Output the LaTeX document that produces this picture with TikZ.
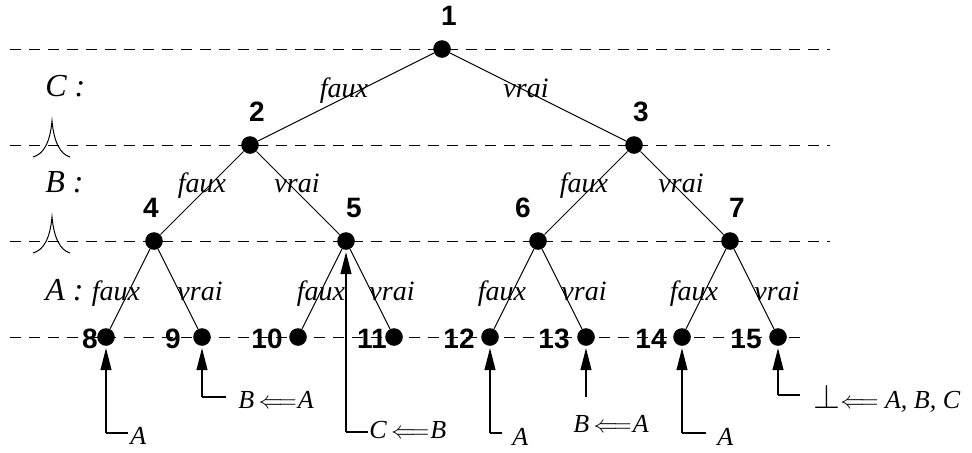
\documentclass[tikz,border=0pt]{standalone}
\usepackage{fontspec}
\setmainfont{Liberation Serif}
\newfontfamily\numfont{Liberation Sans}
\usetikzlibrary{arrows.meta}

\begin{document}
\begin{tikzpicture}[x=0.5pt,y=-0.5pt,
  dot/.style={circle,fill=black,inner sep=0pt,minimum size=8.8pt},
  num/.style={font=\numfont\bfseries\fontsize{14}{16}\selectfont,inner sep=0pt},
  lab/.style={font=\itshape\fontsize{14}{16}\selectfont,anchor=base,inner sep=0pt},
  lvl/.style={font=\itshape\fontsize{16}{18}\selectfont,anchor=base west,inner sep=0pt},
  note/.style={font=\itshape\fontsize{13}{15}\selectfont,anchor=base west,inner sep=0pt},
  branch/.style={line width=0.5pt},
  rule/.style={dash pattern=on 5.5pt off 4pt,line width=0.5pt},
  hint/.style={line width=0.6pt,-{Triangle[length=11pt,width=5.5pt]}},
  hook/.style={line width=0.6pt},
  cusp/.style={line width=0.5pt}
]
\useasboundingbox (0,0) rectangle (972,452);

% level rules
\draw[rule] (10,49) -- (830,49);
\draw[rule] (10,145) -- (830,145);
\draw[rule] (10,241) -- (830,241);
\draw[rule] (10,337) -- (805,337);

% conjunction marks on the rules
\draw[cusp] (33,157) .. controls (44,154) and (50,142) .. (52,121)
            .. controls (54,142) and (60,154) .. (70,157);
\draw[cusp] (33,253) .. controls (44,250) and (50,238) .. (52,217)
            .. controls (54,238) and (60,250) .. (70,253);

% variable labels
\node[lvl] (lc) at (45,96) {C :};
\node[lvl] (lb) at (45,192) {B :};
\node[lvl] (la) at (45,300) {A :};

% tree nodes
\node[dot] (n1) at (442,49) {};
\node[dot] (n2) at (250,145) {};
\node[dot] (n3) at (634,145) {};
\node[dot] (n4) at (154,241) {};
\node[dot] (n5) at (346,241) {};
\node[dot] (n6) at (538,241) {};
\node[dot] (n7) at (730,241) {};
\node[dot] (n8) at (106,337) {};
\node[dot] (n9) at (202,337) {};
\node[dot] (n10) at (298,337) {};
\node[dot] (n11) at (394,337) {};
\node[dot] (n12) at (490,337) {};
\node[dot] (n13) at (586,337) {};
\node[dot] (n14) at (682,337) {};
\node[dot] (n15) at (778,337) {};

% node numbers
\node[num] (t1) at (449,16) {1};
\node[num] (t2) at (257,112) {2};
\node[num] (t3) at (641,112) {3};
\node[num] (t4) at (151,208) {4};
\node[num] (t5) at (354,208) {5};
\node[num] (t6) at (523,208) {6};
\node[num] (t7) at (737,208) {7};
\node[num] (t8) at (90,339) {8};
\node[num] (t9) at (173,339) {9};
\node[num] (t10) at (267,339) {10};
\node[num] (t11) at (372,339) {11};
\node[num] (t12) at (459,339) {12};
\node[num] (t13) at (554,339) {13};
\node[num] (t14) at (651,339) {14};
\node[num] (t15) at (746,339) {15};

% branches
\draw[branch] (n1) -- (n2);  \draw[branch] (n1) -- (n3);
\draw[branch] (n2) -- (n4);  \draw[branch] (n2) -- (n5);
\draw[branch] (n3) -- (n6);  \draw[branch] (n3) -- (n7);
\draw[branch] (n4) -- (n8);  \draw[branch] (n4) -- (n9);
\draw[branch] (n5) -- (n10); \draw[branch] (n5) -- (n11);
\draw[branch] (n6) -- (n12); \draw[branch] (n6) -- (n13);
\draw[branch] (n7) -- (n14); \draw[branch] (n7) -- (n15);

% branch labels
\node[lab] (e12) at (344,97) {faux};
\node[lab] (e13) at (526,97) {vrai};
\node[lab] (e24) at (202,192) {faux};
\node[lab] (e25) at (297,192) {vrai};
\node[lab] (e36) at (584,192) {faux};
\node[lab] (e37) at (681,192) {vrai};
\node[lab] (e48) at (116,300) {faux};
\node[lab] (e49) at (200,300) {vrai};
\node[lab] (e510) at (321,300) {faux};
\node[lab] (e511) at (392,300) {vrai};
\node[lab] (e612) at (502,300) {faux};
\node[lab] (e613) at (584,300) {vrai};
\node[lab] (e714) at (694,300) {faux};
\node[lab] (e715) at (777,300) {vrai};

% annotations pointing at nodes
\coordinate (b8) at (106,433);  \coordinate (h8) at (128,433);
\coordinate (b9) at (202,397);  \coordinate (h9) at (226,397);
\coordinate (b5) at (346,432);  \coordinate (h5) at (368,432);
\coordinate (b12) at (490,433); \coordinate (h12) at (502,433);
\coordinate (b13) at (586,397);
\coordinate (b14) at (682,433); \coordinate (h14) at (706,433);
\coordinate (b15) at (778,395); \coordinate (h15) at (800,395);

\draw[hint,shorten >=1pt] (b8) -- (n8);   \draw[hook] (b8) -- (h8);
\draw[hint,shorten >=1pt] (b9) -- (n9);   \draw[hook] (b9) -- (h9);
\draw[hint,shorten >=1pt] (b5) -- (n5);   \draw[hook] (b5) -- (h5);
\draw[hint,shorten >=1pt] (b12) -- (n12); \draw[hook] (b12) -- (h12);
\draw[hint,shorten >=1pt] (b13) -- (n13);
\draw[hint,shorten >=1pt] (b14) -- (n14); \draw[hook] (b14) -- (h14);
\draw[hint,shorten >=1pt] (b15) -- (n15); \draw[hook] (b15) -- (h15);

\node[note] (a8) at (130,444) {A};
\node[note] (a9) at (238,408) {B\,$\Longleftarrow$\kern0.5pt A};
\node[note] (a5) at (369,438) {C\,$\Longleftarrow$\kern0.5pt B};
\node[note] (a12) at (512,445) {A};
\node[note] (a13) at (573,432) {B\,$\Longleftarrow$\kern0.5pt A};
\node[note] (a14) at (717,445) {A};
\node[note] (a15) at (813,408) {{\fontsize{16}{18}\selectfont$\perp$}$\Longleftarrow$\ A, B, C};
\end{tikzpicture}
\end{document}
